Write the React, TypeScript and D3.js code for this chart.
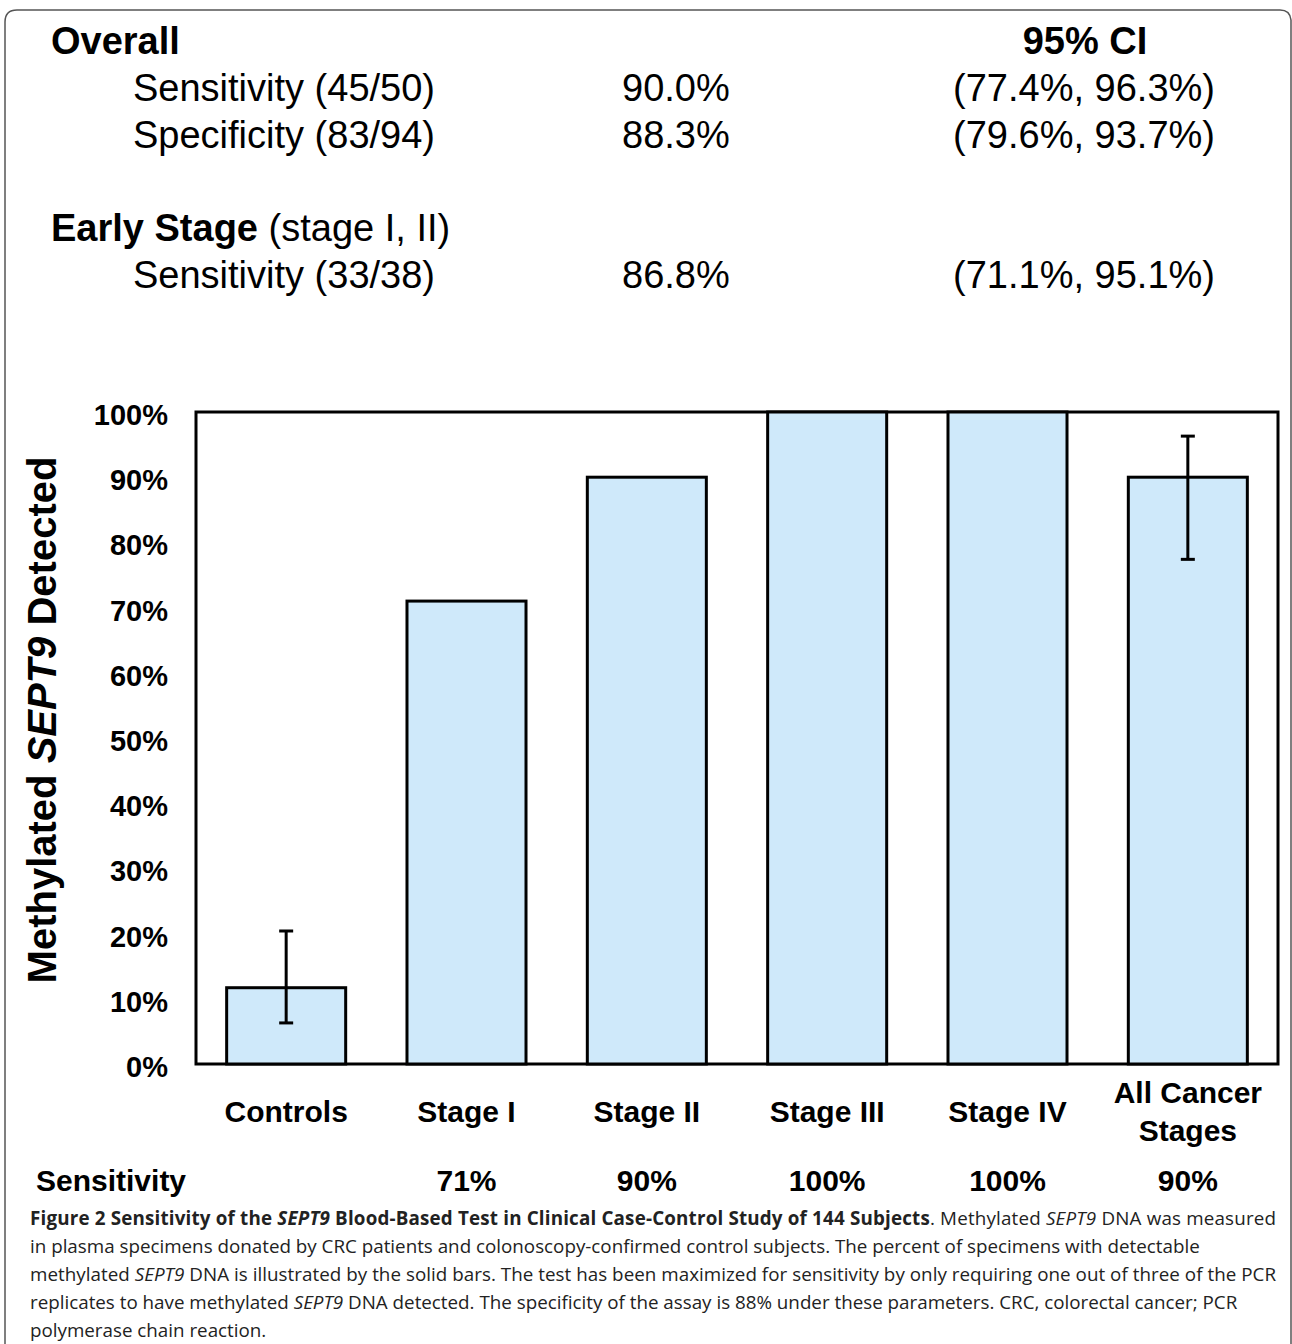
import React from "react";
import * as d3 from "d3";

// bar chart data (percent detected)
const categories = ["Controls", "Stage I", "Stage II", "Stage III", "Stage IV", "All Cancer Stages"];
const detected = [11.7, 71, 90, 100, 100, 90];
const ciLow = [6.3, null, null, null, null, 77.4];
const ciHigh = [20.4, null, null, null, null, 96.3];
const sensitivityRow = ["", "71%", "90%", "100%", "100%", "90%"];
const yTicks = [0, 10, 20, 30, 40, 50, 60, 70, 80, 90, 100];

// summary table on top
const tableRows = [
  { label: "Sensitivity (45/50)", value: "90.0%", ci: "(77.4%, 96.3%)" },
  { label: "Specificity (83/94)", value: "88.3%", ci: "(79.6%, 93.7%)" },
  { label: "Sensitivity (33/38)", value: "86.8%", ci: "(71.1%, 95.1%)" },
];

const W = 1292;
const H = 1344;
const font = "Arial, 'Liberation Sans', sans-serif";
const capFont = "'Open Sans', sans-serif";

export default function App() {
  const left = 196;
  const right = 1278;
  const top = 412;
  const bottom = 1064;

  const x = d3.scaleBand().domain(categories).range([left, right]).paddingInner(0.34).paddingOuter(0.17);
  const y = d3.scaleLinear().domain([0, 100]).range([bottom, top]);

  const bw = x.bandwidth();

  return (
    <svg width={W} height={H} style={{ position: "absolute", left: 0, top: 0, background: "#fff" }}>
      {/* frame */}
      <path d={`M5,${H + 5} L5,22 Q5,10 17,10 L1280,10 Q1290,10 1291,20 L1291,${H + 5}`} fill="none" stroke="#555" strokeWidth={1.5} />

      {/* top summary */}
      <g fontFamily={font} fontSize={38} fill="#000">
        <text x={51} y={54} fontWeight="bold">Overall</text>
        <text x={1085} y={54} fontWeight="bold" textAnchor="middle">95% CI</text>
        <text x={133} y={101}>{tableRows[0].label}</text>
        <text x={622} y={101}>{tableRows[0].value}</text>
        <text x={1215} y={101} textAnchor="end">{tableRows[0].ci}</text>
        <text x={133} y={148}>{tableRows[1].label}</text>
        <text x={622} y={148}>{tableRows[1].value}</text>
        <text x={1215} y={148} textAnchor="end">{tableRows[1].ci}</text>
        <text x={51} y={241}>
          <tspan fontWeight="bold">Early Stage</tspan> (stage I, II)
        </text>
        <text x={133} y={288}>{tableRows[2].label}</text>
        <text x={622} y={288}>{tableRows[2].value}</text>
        <text x={1215} y={288} textAnchor="end">{tableRows[2].ci}</text>
      </g>

      {/* plot frame */}
      <rect x={left} y={top} width={right - left} height={bottom - top} fill="none" stroke="#000" strokeWidth={3} />

      {/* bars */}
      {categories.map((c, i) => (
        <rect
          key={c}
          x={x(c)}
          y={y(detected[i])}
          width={bw}
          height={y(0) - y(detected[i])}
          fill="#cfe9fa"
          stroke="#000"
          strokeWidth={3}
        />
      ))}

      {/* error bars */}
      {categories.map((c, i) => {
        if (ciLow[i] == null) return null;
        const cx = (x(c) as number) + bw / 2;
        return (
          <g key={"e" + c} stroke="#000" strokeWidth={3}>
            <line x1={cx} x2={cx} y1={y(ciLow[i] as number)} y2={y(ciHigh[i] as number)} />
            <line x1={cx - 7} x2={cx + 7} y1={y(ciLow[i] as number)} y2={y(ciLow[i] as number)} />
            <line x1={cx - 7} x2={cx + 7} y1={y(ciHigh[i] as number)} y2={y(ciHigh[i] as number)} />
          </g>
        );
      })}

      {/* y ticks */}
      <g fontFamily={font} fontSize={29} fontWeight="bold" textAnchor="end">
        {yTicks.map((t) => (
          <text key={t} x={168} y={y(t) + 13}>{t}%</text>
        ))}
      </g>

      {/* y title */}
      <text
        transform={`translate(56,720) rotate(-90)`}
        textAnchor="middle"
        fontFamily={font}
        fontSize={40}
        fontWeight="bold"
      >
        Methylated <tspan fontStyle="italic">SEPT9</tspan> Detected
      </text>

      {/* x labels */}
      <g fontFamily={font} fontSize={30} fontWeight="bold" textAnchor="middle">
        {categories.map((c) => {
          const cx = (x(c) as number) + bw / 2;
          if (c === "All Cancer Stages") {
            return (
              <text key={c} x={cx}>
                <tspan x={cx} y={1103}>All Cancer</tspan>
                <tspan x={cx} y={1141}>Stages</tspan>
              </text>
            );
          }
          return <text key={c} x={cx} y={1122}>{c}</text>;
        })}
        <text x={36} y={1191} textAnchor="start">Sensitivity</text>
        {categories.map((c, i) => (
          <text key={"s" + c} x={(x(c) as number) + bw / 2} y={1191}>{sensitivityRow[i]}</text>
        ))}
      </g>

      {/* caption */}
      <g fontFamily={capFont} fontSize={18.8} fill="#222">
        <text x={30} y={1225} textLength={1246} lengthAdjust="spacing">
          <tspan fontWeight="bold">Figure 2 Sensitivity of the <tspan fontStyle="italic">SEPT9</tspan> Blood-Based Test in Clinical Case-Control Study of 144 Subjects</tspan>. Methylated <tspan fontStyle="italic">SEPT9</tspan> DNA was measured
        </text>
        <text x={30} y={1253}>in plasma specimens donated by CRC patients and colonoscopy-confirmed control subjects. The percent of specimens with detectable</text>
        <text x={30} y={1281} textLength={1246} lengthAdjust="spacing">
          methylated <tspan fontStyle="italic">SEPT9</tspan> DNA is illustrated by the solid bars. The test has been maximized for sensitivity by only requiring one out of three of the PCR
        </text>
        <text x={30} y={1309}>
          replicates to have methylated <tspan fontStyle="italic">SEPT9</tspan> DNA detected. The specificity of the assay is 88% under these parameters. CRC, colorectal cancer; PCR
        </text>
        <text x={30} y={1337}>polymerase chain reaction.</text>
      </g>
    </svg>
  );
}
